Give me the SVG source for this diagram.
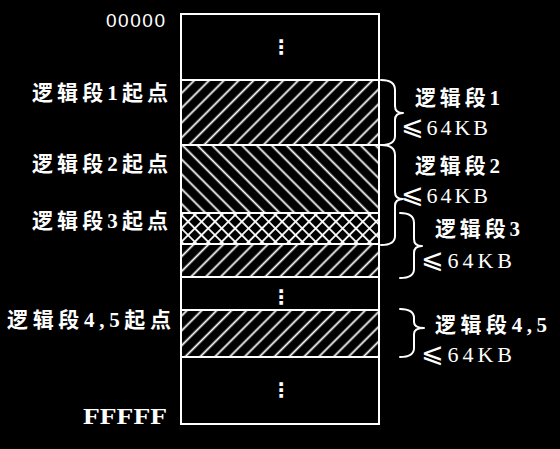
<svg xmlns="http://www.w3.org/2000/svg" width="560" height="449" viewBox="0 0 560 449">
<style>
.cn{font-family:"Liberation Serif","Noto Sans CJK SC",serif;font-size:21px;font-weight:bold;fill:#fff;}
.kb{font-family:"Liberation Serif","DejaVu Sans",serif;font-size:22px;fill:#fff;}
.le{font-family:"DejaVu Sans",sans-serif;font-size:27px;}
.addr{fill:#fff;}
.div{stroke:#fff;stroke-width:2;}
.brace{fill:none;stroke:#fff;stroke-width:2;stroke-linecap:round;stroke-linejoin:round;}
.dots{font-family:"DejaVu Sans",sans-serif;font-weight:bold;font-size:20px;fill:#fff;}
</style>
<defs>
<pattern id="hf" width="10.5" height="10.5" patternUnits="userSpaceOnUse" patternTransform="rotate(45)"><line x1="5.25" y1="0" x2="5.25" y2="10.5" stroke="#fff" stroke-width="1.8"/></pattern>
<pattern id="hb" width="10.5" height="10.5" patternUnits="userSpaceOnUse" patternTransform="rotate(-45)"><line x1="5.25" y1="0" x2="5.25" y2="10.5" stroke="#fff" stroke-width="1.8"/></pattern>
<pattern id="hx" width="9.5" height="9.5" patternUnits="userSpaceOnUse" patternTransform="rotate(45)"><line x1="4.75" y1="0" x2="4.75" y2="9.5" stroke="#fff" stroke-width="1.8"/><line x1="0" y1="4.75" x2="9.5" y2="4.75" stroke="#fff" stroke-width="1.8"/></pattern>
</defs>
<rect width="560" height="449" fill="#000"/>
<g id="memory">
<rect x="181" y="80" width="198" height="65" fill="url(#hf)"/>
<rect x="181" y="145" width="198" height="68" fill="url(#hb)"/>
<rect x="181" y="213" width="198" height="31" fill="url(#hx)"/>
<rect x="181" y="244" width="198" height="33" fill="url(#hf)"/>
<rect x="181" y="310" width="198" height="47" fill="url(#hf)"/>
<line class="div" x1="181" y1="80" x2="379" y2="80"/>
<line class="div" x1="181" y1="145" x2="379" y2="145"/>
<line class="div" x1="181" y1="213" x2="379" y2="213"/>
<line class="div" x1="181" y1="244" x2="379" y2="244"/>
<line class="div" x1="181" y1="277" x2="379" y2="277"/>
<line class="div" x1="181" y1="310" x2="379" y2="310"/>
<line class="div" x1="181" y1="357" x2="379" y2="357"/>
<rect x="181" y="14" width="198" height="410" fill="none" stroke="#fff" stroke-width="2"/>
<text class="dots" x="281" y="54" text-anchor="middle">⋮</text>
<text class="dots" x="281" y="304" text-anchor="middle">⋮</text>
<text class="dots" x="281" y="397" text-anchor="middle">⋮</text>
</g>
<g id="addresses">
<text class="addr" x="106" y="27" font-family="Liberation Sans,sans-serif" font-size="19" textLength="59" lengthAdjust="spacing">00000</text>
<text class="addr" x="83" y="424" font-family="Liberation Serif,serif" font-weight="bold" font-size="23" textLength="84" lengthAdjust="spacingAndGlyphs">FFFFF</text>
</g>
<g id="start-labels">
<text class="cn" x="32" y="100" textLength="136" lengthAdjust="spacing">逻辑段1起点</text>
<text class="cn" x="32" y="171" textLength="136" lengthAdjust="spacing">逻辑段2起点</text>
<text class="cn" x="32" y="228" textLength="136" lengthAdjust="spacing">逻辑段3起点</text>
<text class="cn" x="7" y="327" textLength="164" lengthAdjust="spacing">逻辑段4,5起点</text>
</g>
<g id="connectors">
<path class="brace" d="M381,80 Q395,80 395,90 L395,106 Q395,113 403,113 Q395,113 395,120 L395,136 Q395,145 381,145"/>
<path class="brace" d="M381,145 Q395,145 395,155 L395,192 Q395,199 403,199 Q395,199 395,206 L395,236 Q395,245 381,245"/>
<path class="brace" d="M400,213 Q414,213 414,223 L414,239 Q414,246 422,246 Q414,246 414,253 L414,269 Q414,278 400,278"/>
<path class="brace" d="M400,309 Q414,309 414,318 L414,322 Q414,328 424,328 Q414,328 414,334 L414,348 Q414,357 400,357"/>
</g>
<g id="segment1"><text class="cn" x="415" y="105" textLength="85" lengthAdjust="spacing">逻辑段1</text><text class="kb" x="401" y="135" textLength="87" lengthAdjust="spacing"><tspan class="le">⩽</tspan>64KB</text></g>
<g id="segment2"><text class="cn" x="415" y="173" textLength="85" lengthAdjust="spacing">逻辑段2</text><text class="kb" x="401" y="203" textLength="87" lengthAdjust="spacing"><tspan class="le">⩽</tspan>64KB</text></g>
<g id="segment3"><text class="cn" x="435" y="236" textLength="85" lengthAdjust="spacing">逻辑段3</text><text class="kb" x="421" y="268" textLength="91" lengthAdjust="spacing"><tspan class="le">⩽</tspan>64KB</text></g>
<g id="segment45"><text class="cn" x="435" y="332" textLength="112" lengthAdjust="spacing">逻辑段4,5</text><text class="kb" x="421" y="362" textLength="91" lengthAdjust="spacing"><tspan class="le">⩽</tspan>64KB</text></g>
</svg>
